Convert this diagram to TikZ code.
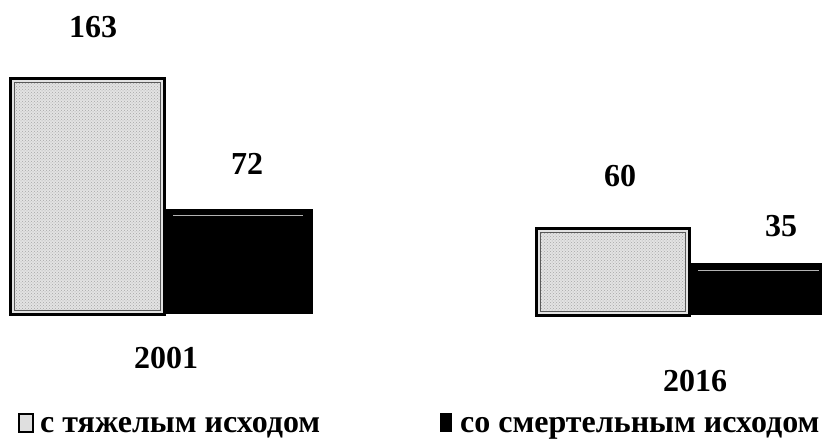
\documentclass[tikz,border=0pt]{standalone}
\usepackage{fontspec}
\setmainfont{Liberation Serif}
\usetikzlibrary{patterns}
\tikzset{
  lightbar/.style={fill=gray!22, draw=black, line width=2.5pt},
  lightinner/.style={draw=gray!70!black, line width=1pt},
  darkbar/.style={fill=black, draw=black, line width=0.8pt},
  val/.style={font=\fontsize{32}{36}\selectfont\bfseries, inner sep=0pt},
  yr/.style={font=\fontsize{32}{36}\selectfont\bfseries, inner sep=0pt},
  leg/.style={font=\fontsize{32}{36}\selectfont\bfseries, inner sep=0pt, anchor=base west}
}
\begin{document}
\begin{tikzpicture}[x=1pt,y=-1pt]
\useasboundingbox (0,0) rectangle (822,439);
% bars 2001
\node[lightbar, minimum width=154pt, minimum height=236pt, anchor=north west, inner sep=0pt] (b1) at (9,77) {};
\draw[lightinner] ([shift={(5,-5)}]b1.south west) rectangle ([shift={(-5,5)}]b1.north east);
\fill[pattern=crosshatch dots, pattern color=gray!70] ([shift={(6,-6)}]b1.south west) rectangle ([shift={(-6,6)}]b1.north east);
\node[darkbar, minimum width=149pt, minimum height=104pt, anchor=north west, inner sep=0pt] (d1) at (163,209) {};
\draw[gray!60, line width=0.6pt] ([shift={(10,6)}]d1.north west) -- ([shift={(-10,6)}]d1.north east);
% bars 2016
\node[lightbar, minimum width=153pt, minimum height=87pt, anchor=north west, inner sep=0pt] (b2) at (535,227) {};
\draw[lightinner] ([shift={(5,-5)}]b2.south west) rectangle ([shift={(-5,5)}]b2.north east);
\fill[pattern=crosshatch dots, pattern color=gray!70] ([shift={(6,-6)}]b2.south west) rectangle ([shift={(-6,6)}]b2.north east);
\node[darkbar, minimum width=135pt, minimum height=51pt, anchor=north west, inner sep=0pt] (d2) at (688,263) {};
\draw[gray!60, line width=0.6pt] ([shift={(10,7)}]d2.north west) -- ([shift={(-5,7)}]d2.north east);
% values
\node[val] (v1) at (93,27) {163};
\node[val] (v2) at (247,164) {72};
\node[val] (v3) at (620,176) {60};
\node[val] (v4) at (781,226) {35};
% years
\node[yr] (y1) at (166,358) {2001};
\node[yr] (y2) at (695,381) {2016};
% legend
\node[draw=black, line width=2pt, fill=gray!25, minimum width=14pt, minimum height=18pt, inner sep=0pt] (l1) at (26,423) {};
\node[leg] (t1) at (40,432) {с тяжелым исходом};
\node[fill=black, minimum width=12pt, minimum height=19pt, inner sep=0pt] (l2) at (446,422) {};
\node[leg] (t2) at (460,432) {со смертельным исходом};
\end{tikzpicture}
\end{document}
